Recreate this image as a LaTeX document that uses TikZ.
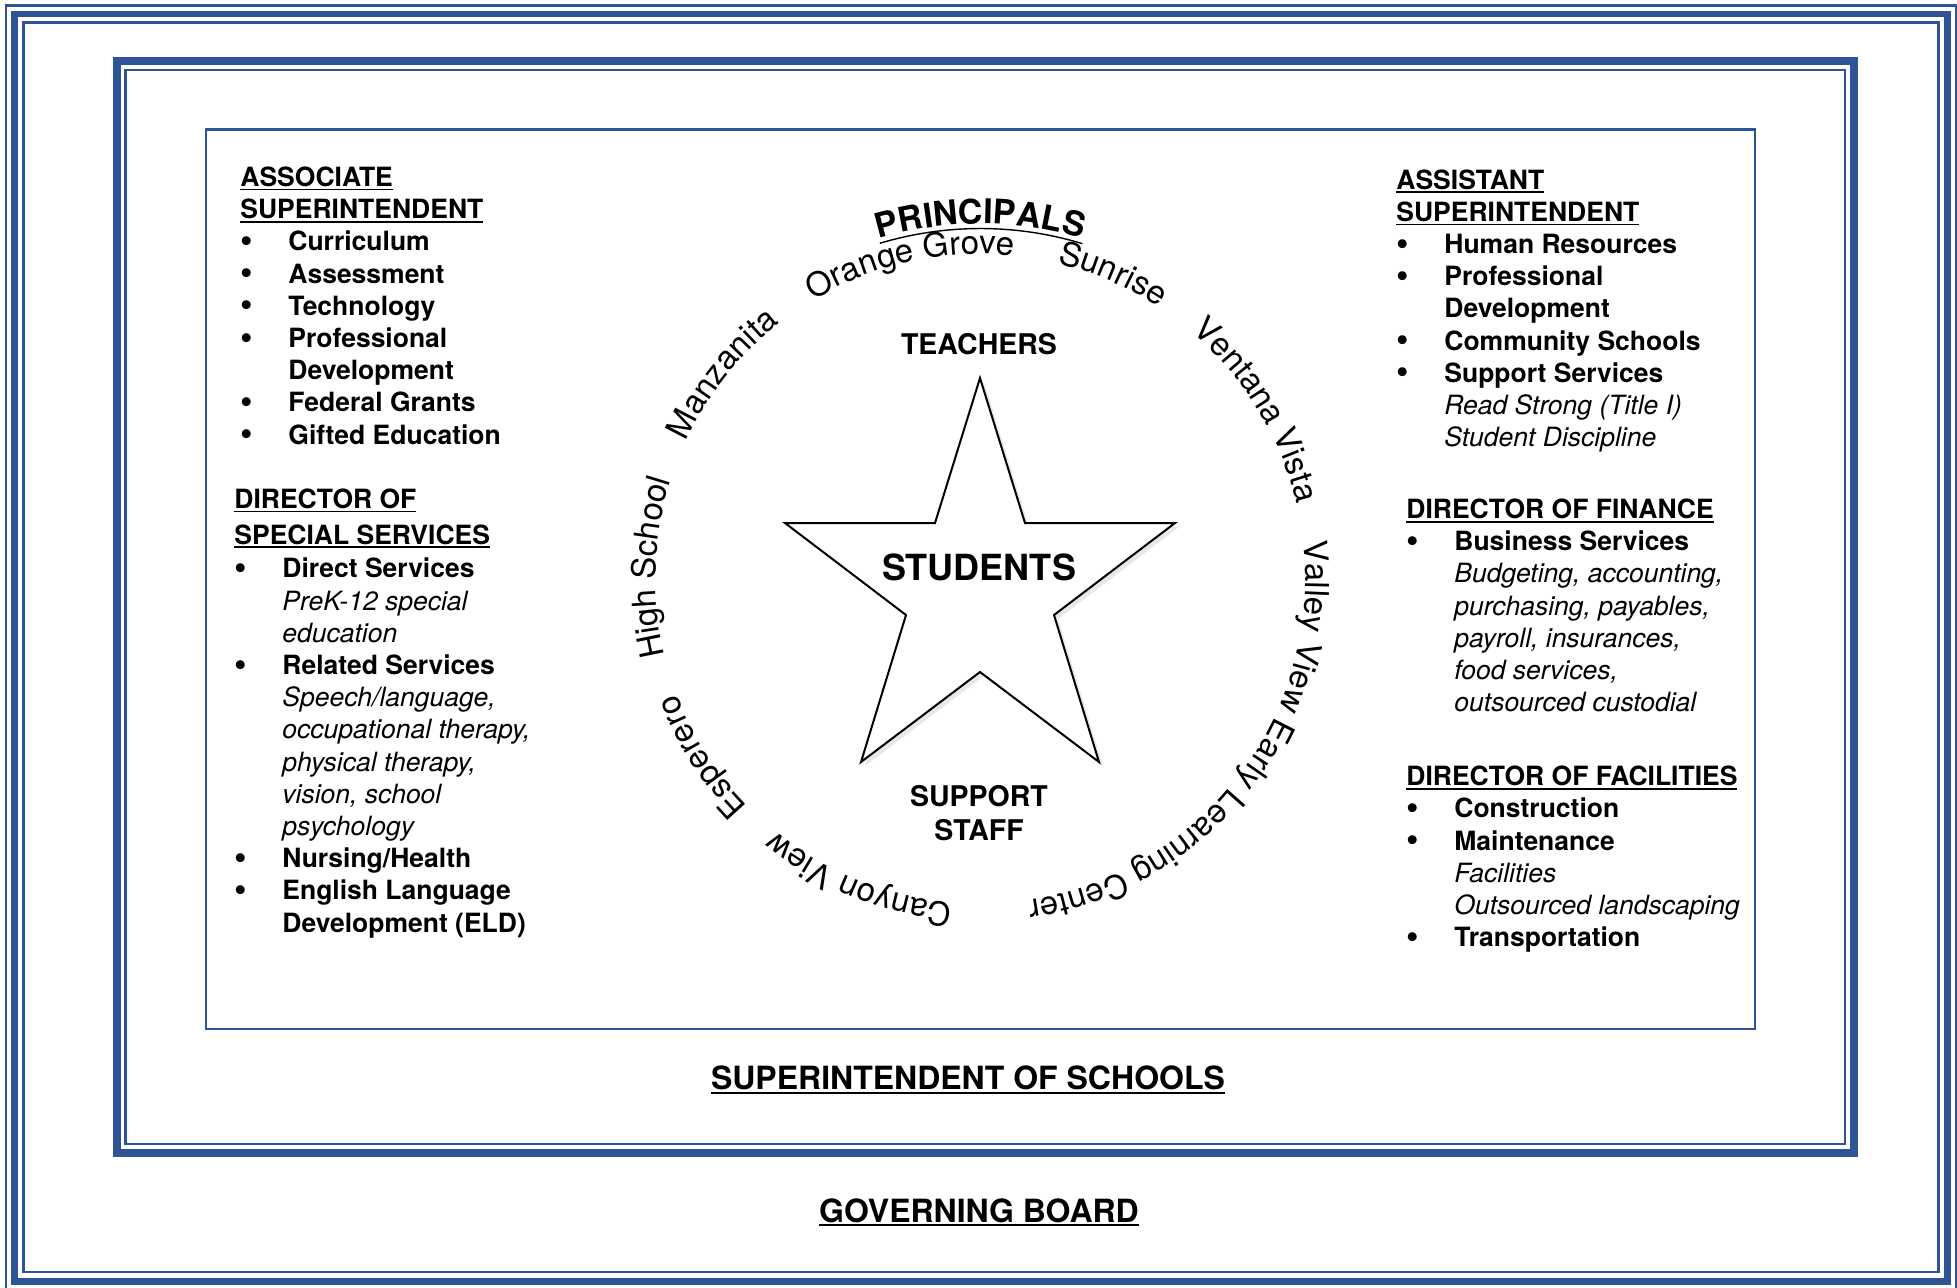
\documentclass[tikz,border=0pt]{standalone}
\usepackage{fontspec}
\setmainfont{TeX Gyre Heros}
\usepackage{tikz}
\usetikzlibrary{
    calc,
    decorations.text,
    shadows
}
\definecolor{boardblue}{RGB}{47,84,150}
\newsavebox{\ulbox}
\newcommand{\ulx}[1]{\sbox{\ulbox}{#1}\rlap{\rule[-2pt]{\wd\ulbox}{0.9pt}}\usebox{\ulbox}}
\newcommand{\headtxt}[1]{\ulx{\bfseries #1}}
\newcommand{\itm}[1]{\makebox[24pt][l]{\raisebox{-1.3pt}{\scalebox{1.35}{\textbullet}}}\textbf{#1}}
\newcommand{\contb}[1]{\hspace*{24pt}\textbf{#1}}
\newcommand{\conti}[1]{\hspace*{24pt}\textit{#1}}
\newcommand{\schoolfont}{\fontsize{16.5}{19}\selectfont}
\newcommand{\principalfont}{\fontsize{17}{20}\selectfont\bfseries}
\tikzset{
    x = 0.5pt,
    y = 0.5pt,
    every node/.append style = {
        inner sep = 0pt
    },
    thinrule/.style = {
        draw = boardblue,
        line width = 1.25pt
    },
    thickrule/.style = {
        draw = boardblue,
        line width = 3.25pt
    },
    % anchored at the baseline of the last line
    block/.style = {
        align = left,
        anchor = base west,
        font = \fontsize{13.25}{16.1}\selectfont
    },
    centretxt/.style = {
        align = center,
        anchor = base,
        font = \bfseries\fontsize{14.25}{17}\selectfont
    },
    titletxt/.style = {
        anchor = base,
        font = \bfseries\fontsize{16}{19}\selectfont
    },
    school arc/.style = {
        decorate,
        decoration = {
            text along path,
            text align = center,
            text = {|\schoolfont|#1}
        }
    }
}

\begin{document}
\begin{tikzpicture}
        \useasboundingbox (0,0) rectangle (1957,-1287);

        % frames
        \draw[thinrule] (6,-5.5) rectangle (1956.5,-1289);
        \draw[thickrule] (14.5,-14) rectangle (1947.5,-1281.5);
        \draw[thinrule] (23.5,-22.5) rectangle (1938.5,-1272);
        \draw[boardblue, line width=4pt] (116.5,-61) rectangle (1854,-1153);
        \draw[thinrule] (125.5,-70) rectangle (1845,-1144);
        \draw[thinrule] (206,-129.5) rectangle (1755,-1029);

        % left column
        \node[block] (assoc) at (240,-444) {
            \headtxt{ASSOCIATE}\\
            \headtxt{SUPERINTENDENT}\\
            \itm{Curriculum}\\
            \itm{Assessment}\\
            \itm{Technology}\\
            \itm{Professional}\\
            \contb{Development}\\
            \itm{Federal Grants}\\
            \itm{Gifted Education}};
        \node[block] (special) at (234,-932) {
            \headtxt{DIRECTOR OF}\\[1.75pt]
            \headtxt{SPECIAL SERVICES}\\[0.75pt]
            \itm{Direct Services}\\
            \conti{PreK-12 special}\\
            \conti{education}\\
            \itm{Related Services}\\
            \conti{Speech/language,}\\
            \conti{occupational therapy,}\\
            \conti{physical therapy,}\\
            \conti{vision, school}\\
            \conti{psychology}\\
            \itm{Nursing/Health}\\
            \itm{English Language}\\
            \contb{Development (ELD)}};

        % right column
        \node[block] (assist) at (1396,-446.7) {
            \headtxt{ASSISTANT}\\
            \headtxt{SUPERINTENDENT}\\
            \itm{Human Resources}\\
            \itm{Professional}\\
            \contb{Development}\\
            \itm{Community Schools}\\
            \itm{Support Services}\\
            \conti{Read Strong (Title I)}\\
            \conti{Student Discipline}};
        \node[block] (finance) at (1406,-711.7) {
            \headtxt{DIRECTOR OF FINANCE}\\
            \itm{Business Services}\\
            \conti{Budgeting, accounting,}\\
            \conti{purchasing, payables,}\\
            \conti{payroll, insurances,}\\
            \conti{food services,}\\
            \conti{outsourced custodial}};
        \node[block] (facilities) at (1406,-946.7) {
            \headtxt{DIRECTOR OF FACILITIES}\\
            \itm{Construction}\\
            \itm{Maintenance}\\
            \conti{Facilities}\\
            \conti{Outsourced landscaping}\\
            \itm{Transportation}};

        % star
        \draw[line width=1pt, fill=white,
              drop shadow={opacity=0.18, shadow xshift=2pt, shadow yshift=-2pt}]
            (980,-378) -- (1025,-523) -- (1175,-523) -- (1054,-615)
            -- (1099,-762) -- (980,-672) -- (861,-762) -- (906,-615)
            -- (785,-523) -- (935,-523) -- cycle;

        \node[centretxt] (teachers) at (979,-354) {TEACHERS};
        \node[centretxt, font=\bfseries\fontsize{18}{21}\selectfont] (students) at (979,-580) {STUDENTS};
        \node[centretxt] (support) at (979,-840) {SUPPORT\\STAFF};

        % schools round the star
        \coordinate (ctr) at (980.5,-579);
        \path[decorate, decoration={text along path, text align=center,
              text={|\principalfont|PRINCIPALS}}]
            ($(ctr)+(150:355)$) arc[start angle=150, end angle=30, radius=355];
        \draw[line width=0.7pt] ($(ctr)+(106.7:350.5)$) arc[start angle=106.7, end angle=73.1, radius=350.5];

        \path[school arc={Orange Grove}] ($(ctr)+(162.5:325)$) arc[start angle=162.5, end angle=42.5, radius=325];
        \path[school arc={Sunrise}] ($(ctr)+(126.5:325)$) arc[start angle=126.5, end angle=6.5, radius=325];
        \path[school arc={Ventana Vista}] ($(ctr)+(91.5:325)$) arc[start angle=91.5, end angle=-28.5, radius=325];
        \path[school arc={Valley View Early Learning Center}] ($(ctr)+(32.5:325)$) arc[start angle=32.5, end angle=-107.5, radius=325];
        \path[school arc={Canyon View}] ($(ctr)+(-52:325)$) arc[start angle=-52, end angle=-172, radius=325];
        \path[school arc={Esperero}] ($(ctr)+(-87.5:325)$) arc[start angle=-87.5, end angle=-207.5, radius=325];
        \path[school arc={High School}] ($(ctr)+(238:325)$) arc[start angle=238, end angle=118, radius=325];
        \path[school arc={Manzanita}] ($(ctr)+(201.5:325)$) arc[start angle=201.5, end angle=81.5, radius=325];

        % bottom titles
        \node[titletxt] (supt) at (968,-1089.5) {\ulx{SUPERINTENDENT OF SCHOOLS}};
        \node[titletxt] (board) at (979,-1222) {\ulx{GOVERNING BOARD}};
\end{tikzpicture}
\end{document}
